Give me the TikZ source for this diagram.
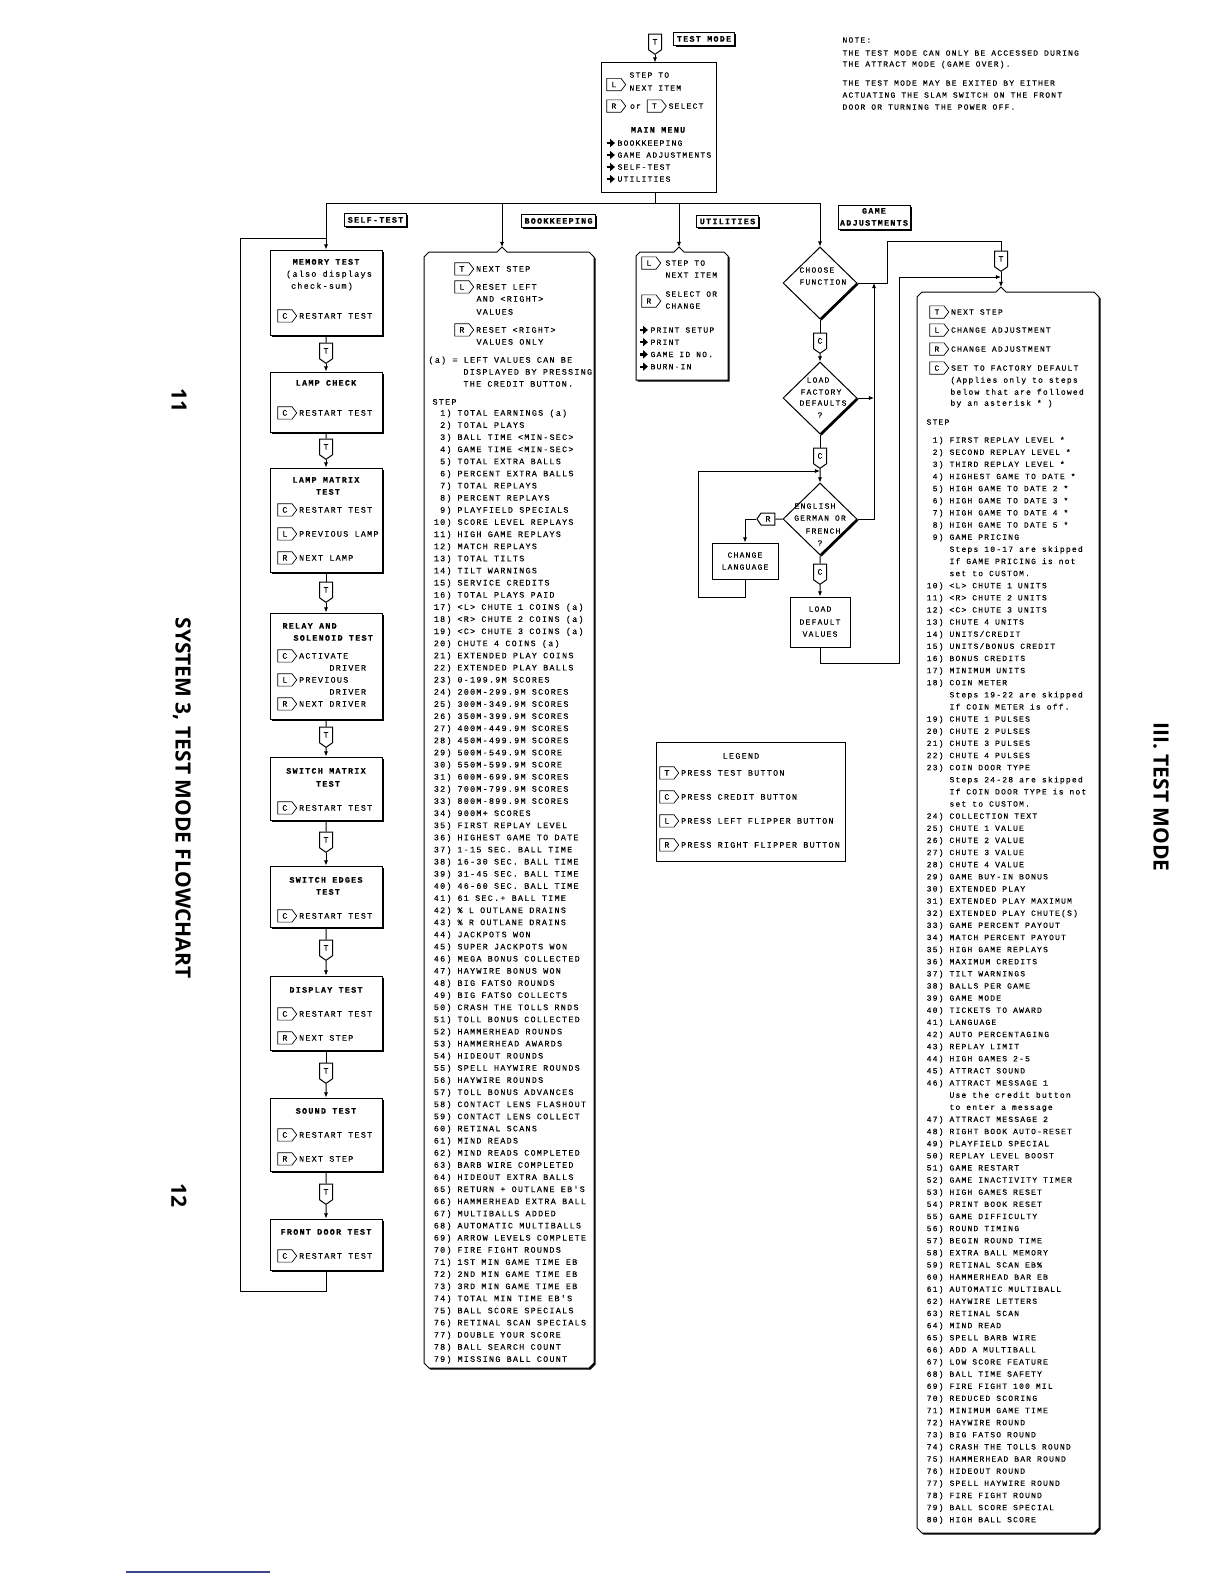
\documentclass[tikz,border=0pt]{standalone}
\usepackage{fontspec}
\usetikzlibrary{shapes.geometric,shapes.symbols,shadows,arrows.meta}
\newfontfamily\plotfont{Liberation Mono}[LetterSpace=15,FakeBold=0.2]
\newfontfamily\sidefont{Open Sans}
\definecolor{rulecol}{RGB}{60,70,140}
\newcommand\btn[1]{\tikz[baseline=(btnk.base)]\node[btnkey](btnk){#1};}
\newcommand\mnu{\tikz[baseline=0pt]\draw[line width=1.1pt,-{Triangle[length=2.4pt,width=4pt]}] (0pt,1.35pt) -- (4.2pt,1.35pt);\hspace{0.8pt}}

\begin{document}
\begin{tikzpicture}[x=0.5pt,y=-0.5pt,line width=0.5pt,
  txt/.style={font=\plotfont\fontsize{4.2}{5}\selectfont,inner sep=0pt,text height=2.7pt,text depth=0pt},
  gtxt/.style={txt,font=\plotfont\fontsize{4}{5}\selectfont},
  ttl/.style={txt,font=\plotfont\bfseries\fontsize{4.2}{5}\selectfont},
  shd/.style={drop shadow={shadow xshift=0.8pt,shadow yshift=-0.8pt,opacity=1,fill=black}},
  stbox/.style={draw,fill=white,shd,minimum width=56pt},
  plainbox/.style={draw,fill=white},
  tag/.style={ttl,draw,fill=white,shd,inner xsep=1.5pt,inner ysep=1.8pt},
  btnkey/.style={shape=signal,signal to=east,draw,line width=0.35pt,minimum width=9.5pt,minimum height=6.2pt,inner sep=0.6pt,signal pointer angle=105},
  tstep/.style={txt,shape=signal,signal to=south,draw,fill=white,minimum width=6.5pt,minimum height=9pt,inner sep=0.5pt,signal pointer angle=110},
  lstep/.style={tstep,signal to=west,minimum width=9pt,minimum height=6pt},
  decide/.style={shape=diamond,draw,fill=white,shd,minimum width=37pt,minimum height=36pt,inner sep=0pt},
  flow/.style={-{Latex[length=2.6pt,width=2.2pt]}},
  side/.style={font=\sidefont\bfseries\fontsize{10.5}{12}\selectfont,rotate=-90,inner sep=0pt}]
\useasboundingbox (0,0) rectangle (1224,1584);

% top of the chart
\node[tstep] (tmain) at (655,42) {T};
\node[tag] (testmode) at (704,39) {TEST MODE};
\node[plainbox,minimum width=57.5pt,minimum height=64.5pt] (mainbox) at (658.5,127.5) {};
\draw[flow] (tmain) -- (tmain |- mainbox.north);
\node[gtxt,anchor=west] (mn-l) at (606,84.5) {\btn{L}};
\node[gtxt,anchor=west] (mn-l1) at (629,75) {STEP TO};
\node[gtxt,anchor=west] (mn-l2) at (629,88) {NEXT ITEM};
\node[gtxt,anchor=west] (mn-r) at (606,106) {\btn{R}\hspace{2pt}or\hspace{3pt}\btn{T}\hspace{1pt}SELECT};
\node[ttl] (mn-head) at (658,130) {MAIN MENU};
\foreach \m [count=\i from 0] in {BOOKKEEPING,GAME ADJUSTMENTS,SELF-TEST,UTILITIES}
  \node[gtxt,anchor=west] (mn\i) at (605,{143+12*\i}) {\mnu\m};

% note
\node[gtxt,anchor=west] (note0) at (842,40) {NOTE:};
\node[gtxt,anchor=west] (note1) at (842,53) {THE TEST MODE CAN ONLY BE ACCESSED DURING};
\node[gtxt,anchor=west] (note2) at (842,64) {THE ATTRACT MODE (GAME OVER).};
\node[gtxt,anchor=west] (note3) at (842,83) {THE TEST MODE MAY BE EXITED BY EITHER};
\node[gtxt,anchor=west] (note4) at (842,95) {ACTUATING THE SLAM SWITCH ON THE FRONT};
\node[gtxt,anchor=west] (note5) at (842,107) {DOOR OR TURNING THE POWER OFF.};

% menu bus
\coordinate (bus-mid) at (655,203);
\coordinate (bus-st) at (326,203);
\coordinate (bus-bk) at (502,203);
\coordinate (bus-ut) at (679,203);
\coordinate (bus-ga) at (820,203);
\draw (tmain |- mainbox.south) -- (bus-mid);
\draw (bus-st) -- (bus-ga);
\node[tag] (lbl-st) at (375.5,220) {SELF-TEST};
\node[tag] (lbl-bk) at (558.5,221) {BOOKKEEPING};
\node[tag] (lbl-ut) at (727.5,221.5) {UTILITIES};
\node[tag,minimum width=36pt,minimum height=12pt] (lbl-ga) at (874,217) {};
\node[ttl] (lbl-ga1) at (874,211) {GAME};
\node[ttl] (lbl-ga2) at (874,223) {ADJUSTMENTS};

% self-test column
\node[stbox,minimum height=42.5pt] (memtest) at (326,292.5) {};
\node[ttl] (memtest-a) at (326,262) {MEMORY TEST};
\node[txt] (memtest-b) at (329,274) {(also displays};
\node[txt] (memtest-c) at (322,286) {check-sum)};
\node[txt,anchor=west] (memtest-k) at (277,316) {\btn{C}\hspace{1pt}RESTART TEST};

\node[stbox,minimum height=30pt] (lampchk) at (326,402) {};
\node[ttl] (lampchk-a) at (326,383) {LAMP CHECK};
\node[txt,anchor=west] (lampchk-k) at (277,413) {\btn{C}\hspace{1pt}RESTART TEST};

\node[stbox,minimum height=52pt] (lampmtx) at (326,520) {};
\node[ttl] (lampmtx-a) at (326,480) {LAMP MATRIX};
\node[ttl] (lampmtx-b) at (328,492) {TEST};
\node[txt,anchor=west] (lampmtx-k1) at (277,510) {\btn{C}\hspace{1pt}RESTART TEST};
\node[txt,anchor=west] (lampmtx-k2) at (277,534) {\btn{L}\hspace{1pt}PREVIOUS LAMP};
\node[txt,anchor=west] (lampmtx-k3) at (277,558) {\btn{R}\hspace{1pt}NEXT LAMP};

\node[stbox,minimum height=53pt] (relay) at (326,666) {};
\node[ttl,anchor=west] (relay-a) at (282,626) {RELAY AND};
\node[ttl,anchor=west] (relay-b) at (293,638) {SOLENOID TEST};
\node[txt,anchor=west] (relay-k1) at (277,656) {\btn{C}\hspace{1pt}ACTIVATE};
\node[txt,anchor=west] (relay-k1b) at (329,668) {DRIVER};
\node[txt,anchor=west] (relay-k2) at (277,680) {\btn{L}\hspace{1pt}PREVIOUS};
\node[txt,anchor=west] (relay-k2b) at (329,692) {DRIVER};
\node[txt,anchor=west] (relay-k3) at (277,704) {\btn{R}\hspace{1pt}NEXT DRIVER};

\node[stbox,minimum height=31.5pt] (swmtx) at (326,788.5) {};
\node[ttl] (swmtx-a) at (326,771) {SWITCH MATRIX};
\node[ttl] (swmtx-b) at (328,784) {TEST};
\node[txt,anchor=west] (swmtx-k) at (277,808) {\btn{C}\hspace{1pt}RESTART TEST};

\node[stbox,minimum height=30.5pt] (swedge) at (326,896.5) {};
\node[ttl] (swedge-a) at (326,880) {SWITCH EDGES};
\node[ttl] (swedge-b) at (328,892) {TEST};
\node[txt,anchor=west] (swedge-k) at (277,916) {\btn{C}\hspace{1pt}RESTART TEST};

\node[stbox,minimum height=37pt] (disp) at (326,1013) {};
\node[ttl] (disp-a) at (326,990) {DISPLAY TEST};
\node[txt,anchor=west] (disp-k1) at (277,1014) {\btn{C}\hspace{1pt}RESTART TEST};
\node[txt,anchor=west] (disp-k2) at (277,1038) {\btn{R}\hspace{1pt}NEXT STEP};

\node[stbox,minimum height=36.5pt] (sound) at (326,1134.5) {};
\node[ttl] (sound-a) at (326,1111) {SOUND TEST};
\node[txt,anchor=west] (sound-k1) at (277,1135) {\btn{C}\hspace{1pt}RESTART TEST};
\node[txt,anchor=west] (sound-k2) at (277,1159) {\btn{R}\hspace{1pt}NEXT STEP};

\node[stbox,minimum height=25.5pt] (frontdoor) at (326,1244.5) {};
\node[ttl] (frontdoor-a) at (326,1232) {FRONT DOOR TEST};
\node[txt,anchor=west] (frontdoor-k) at (277,1256) {\btn{C}\hspace{1pt}RESTART TEST};

\foreach \a/\b/\y [count=\i] in {memtest/lampchk/351,lampchk/lampmtx/447,lampmtx/relay/590,relay/swmtx/735,swmtx/swedge/840,swedge/disp/948,disp/sound/1071,sound/frontdoor/1192}{
  \node[tstep] (st\i) at (326,\y) {T};
  \draw (\a) -- (st\i);
  \draw[flow] (st\i) -- (\b);
}
\coordinate (st-back) at (326,1291);
\coordinate (st-ret) at (240,1291);
\coordinate (st-in) at (326,238);
\draw (frontdoor) -- (st-back) -- (st-ret) |- (st-in);
\draw[flow] (bus-st) -- (memtest);

% bookkeeping
\coordinate (bk-peak) at (502,247);
\draw[fill=white,shd] (424,257) -- (429,252) -- (497,252) -- (bk-peak) -- (507,252) -- (589,252) -- (594,257) -- (594,1363) -- (589,1368) -- (429,1368) -- (424,1363) -- cycle;
\draw[flow] (bus-bk) -- (bk-peak);
\node[txt,anchor=west] (bk-k1) at (454,269) {\btn{T}\hspace{1pt}NEXT STEP};
\node[txt,anchor=west] (bk-k2) at (454,287) {\btn{L}\hspace{1pt}RESET LEFT};
\node[txt,anchor=west] (bk-k2b) at (476,299) {AND <RIGHT>};
\node[txt,anchor=west] (bk-k2c) at (476,312) {VALUES};
\node[txt,anchor=west] (bk-k3) at (454,330) {\btn{R}\hspace{1pt}RESET <RIGHT>};
\node[txt,anchor=west] (bk-k3b) at (476,342) {VALUES ONLY};
\node[txt,anchor=west] (bk-n1) at (428,360) {(a) = LEFT VALUES CAN BE};
\node[txt,anchor=west] (bk-n2) at (463,372) {DISPLAYED BY PRESSING};
\node[txt,anchor=west] (bk-n3) at (463,384) {THE CREDIT BUTTON.};
\node[txt,anchor=west] (bk-step) at (432,402) {STEP};
\foreach \n/\t [count=\i from 0] in {1)/TOTAL EARNINGS (a),2)/TOTAL PLAYS,3)/BALL TIME <MIN-SEC>,4)/GAME TIME <MIN-SEC>,5)/TOTAL EXTRA BALLS,6)/PERCENT EXTRA BALLS,7)/TOTAL REPLAYS,8)/PERCENT REPLAYS,9)/PLAYFIELD SPECIALS,10)/SCORE LEVEL REPLAYS,11)/HIGH GAME REPLAYS,12)/MATCH REPLAYS,13)/TOTAL TILTS,14)/TILT WARNINGS,15)/SERVICE CREDITS,16)/TOTAL PLAYS PAID,17)/<L> CHUTE 1 COINS (a),18)/<R> CHUTE 2 COINS (a),19)/<C> CHUTE 3 COINS (a),20)/CHUTE 4 COINS (a),21)/EXTENDED PLAY COINS,22)/EXTENDED PLAY BALLS,23)/0-199.9M SCORES,24)/200M-299.9M SCORES,25)/300M-349.9M SCORES,26)/350M-399.9M SCORES,27)/400M-449.9M SCORES,28)/450M-499.9M SCORES,29)/500M-549.9M SCORE,30)/550M-599.9M SCORE,31)/600M-699.9M SCORES,32)/700M-799.9M SCORES,33)/800M-899.9M SCORES,34)/900M+ SCORES,35)/FIRST REPLAY LEVEL,36)/HIGHEST GAME TO DATE,37)/1-15 SEC. BALL TIME,38)/16-30 SEC. BALL TIME,39)/31-45 SEC. BALL TIME,40)/46-60 SEC. BALL TIME,41)/61 SEC.+ BALL TIME,42)/\% L OUTLANE DRAINS,43)/\% R OUTLANE DRAINS,44)/JACKPOTS WON,45)/SUPER JACKPOTS WON,46)/MEGA BONUS COLLECTED,47)/HAYWIRE BONUS WON,48)/BIG FATSO ROUNDS,49)/BIG FATSO COLLECTS,50)/CRASH THE TOLLS RNDS,51)/TOLL BONUS COLLECTED,52)/HAMMERHEAD ROUNDS,53)/HAMMERHEAD AWARDS,54)/HIDEOUT ROUNDS,55)/SPELL HAYWIRE ROUNDS,56)/HAYWIRE ROUNDS,57)/TOLL BONUS ADVANCES,58)/CONTACT LENS FLASHOUT,59)/CONTACT LENS COLLECT,60)/RETINAL SCANS,61)/MIND READS,62)/MIND READS COMPLETED,63)/BARB WIRE COMPLETED,64)/HIDEOUT EXTRA BALLS,65)/RETURN + OUTLANE EB'S,66)/HAMMERHEAD EXTRA BALL,67)/MULTIBALLS ADDED,68)/AUTOMATIC MULTIBALLS,69)/ARROW LEVELS COMPLETE,70)/FIRE FIGHT ROUNDS,71)/1ST MIN GAME TIME EB,72)/2ND MIN GAME TIME EB,73)/3RD MIN GAME TIME EB,74)/TOTAL MIN TIME EB'S,75)/BALL SCORE SPECIALS,76)/RETINAL SCAN SPECIALS,77)/DOUBLE YOUR SCORE,78)/BALL SEARCH COUNT,79)/MISSING BALL COUNT}{
  \node[txt,anchor=east] (bkn\i) at (452,{413+12.13*\i}) {\n};
  \node[txt,anchor=west] (bk\i) at (457,{413+12.13*\i}) {\t};
}

% utilities
\coordinate (ut-peak) at (679,247);
\draw[fill=white,shd] (636,256) -- (640,252) -- (674,252) -- (ut-peak) -- (684,252) -- (724,252) -- (728,256) -- (728,380) -- (636,380) -- cycle;
\draw[flow] (bus-ut) -- (ut-peak);
\node[gtxt,anchor=west] (ut-l) at (641,263) {\btn{L}};
\node[gtxt,anchor=west] (ut-l1) at (665,263) {STEP TO};
\node[gtxt,anchor=west] (ut-l2) at (665,275) {NEXT ITEM};
\node[gtxt,anchor=west] (ut-r) at (641,301) {\btn{R}};
\node[gtxt,anchor=west] (ut-r1) at (665,294) {SELECT OR};
\node[gtxt,anchor=west] (ut-r2) at (665,306) {CHANGE};
\foreach \m [count=\i from 0] in {PRINT SETUP,PRINT,GAME ID NO.,BURN-IN}
  \node[gtxt,anchor=west] (ut\i) at (638,{330+12.2*\i}) {\mnu\m};

% game adjustments flow
\node[decide] (choose) at (820,283) {};
\node[gtxt,anchor=west] (choose-a) at (799,270) {CHOOSE};
\node[gtxt,anchor=west] (choose-b) at (799,282) {FUNCTION};
\draw[flow] (bus-ga) -- (choose);
\node[tstep] (c1) at (820,341) {C};
\draw (choose) -- (c1);
\node[decide] (loadfac) at (820,398) {};
\node[gtxt] (loadfac-a) at (818,380) {LOAD};
\node[gtxt] (loadfac-b) at (821,392) {FACTORY};
\node[gtxt] (loadfac-c) at (823,403) {DEFAULTS};
\node[gtxt] (loadfac-d) at (820,415) {?};
\draw[flow] (c1) -- (loadfac);
\node[tstep] (c2) at (820,456) {C};
\draw (loadfac) -- (c2);
\node[decide] (lang) at (820,519) {};
\node[gtxt] (lang-a) at (815,506) {ENGLISH};
\node[gtxt] (lang-b) at (820,518) {GERMAN OR};
\node[gtxt] (lang-c) at (823,531) {FRENCH};
\node[gtxt] (lang-d) at (820,543) {?};
\coordinate (lang-in) at (820,471);
\draw[flow] (c2) -- (lang);
\node[lstep] (rk) at (768,519) {R};
\draw (lang) -- (rk);
\node[plainbox,minimum width=33pt,minimum height=18pt] (chglang) at (745,561) {};
\node[gtxt] (chglang-a) at (745,555) {CHANGE};
\node[gtxt] (chglang-b) at (745,567) {LANGUAGE};
\draw[flow] (rk) -| (chglang);
\coordinate (chg-back) at (745,597);
\coordinate (chg-left) at (698,597);
\draw[flow] (chglang) -- (chg-back) -- (chg-left) |- (lang-in);
\node[tstep] (c3) at (820,572) {C};
\draw (lang) -- (c3);
\node[plainbox,minimum width=30pt,minimum height=25pt] (loaddef) at (820,622) {};
\node[gtxt] (loaddef-a) at (820,609) {LOAD};
\node[gtxt] (loaddef-b) at (820,622) {DEFAULT};
\node[gtxt] (loaddef-c) at (820,634) {VALUES};
\draw[flow] (c3) -- (loaddef);

\coordinate (ga-up) at (887,241);
\coordinate (ga-top) at (1001,241);
\coordinate (ga-join) at (1001,277);
\coordinate (ga-peak) at (1001,287);
\coordinate (yes-col) at (874,283);
\coordinate (def-back) at (820,663);
\coordinate (def-col) at (899,663);
\node[tstep] (ga-t) at (1001,259) {T};
\draw (choose.east) -| (ga-up) -- (ga-top) -- (ga-t);
\draw[flow] (lang.east) -| (yes-col);
\draw[flow] (loadfac.east) -- (loadfac.east -| yes-col);
\draw[flow] (loaddef) -- (def-back) -- (def-col) |- (ga-join);

% game adjustments list
\draw[fill=white,shd] (917,297) -- (922,292) -- (996,292) -- (ga-peak) -- (1006,292) -- (1094,292) -- (1099,297) -- (1099,1528) -- (1094,1533) -- (922,1533) -- (917,1528) -- cycle;
\draw[flow] (ga-t) -- (ga-peak);
\node[gtxt,anchor=west] (ga-k1) at (929,312) {\btn{T}\hspace{1pt}NEXT STEP};
\node[gtxt,anchor=west] (ga-k2) at (929,330) {\btn{L}\hspace{1pt}CHANGE ADJUSTMENT};
\node[gtxt,anchor=west] (ga-k3) at (929,349) {\btn{R}\hspace{1pt}CHANGE ADJUSTMENT};
\node[gtxt,anchor=west] (ga-k4) at (929,368) {\btn{C}\hspace{1pt}SET TO FACTORY DEFAULT};
\node[gtxt,anchor=west] (ga-k4a) at (950,380) {(Applies only to steps};
\node[gtxt,anchor=west] (ga-k4b) at (950,392) {below that are followed};
\node[gtxt,anchor=west] (ga-k4c) at (950,403) {by an asterisk * )};
\node[gtxt,anchor=west] (ga-step) at (926,422) {STEP};
\foreach \n/\t [count=\i from 0] in {1)/FIRST REPLAY LEVEL *,2)/SECOND REPLAY LEVEL *,3)/THIRD REPLAY LEVEL *,4)/HIGHEST GAME TO DATE *,5)/HIGH GAME TO DATE 2 *,6)/HIGH GAME TO DATE 3 *,7)/HIGH GAME TO DATE 4 *,8)/HIGH GAME TO DATE 5 *,9)/GAME PRICING,/Steps 10-17 are skipped,/If GAME PRICING is not,/set to CUSTOM.,10)/<L> CHUTE 1 UNITS,11)/<R> CHUTE 2 UNITS,12)/<C> CHUTE 3 UNITS,13)/CHUTE 4 UNITS,14)/{UNITS/CREDIT},15)/{UNITS/BONUS CREDIT},16)/BONUS CREDITS,17)/MINIMUM UNITS,18)/COIN METER,/Steps 19-22 are skipped,/If COIN METER is off.,19)/CHUTE 1 PULSES,20)/CHUTE 2 PULSES,21)/CHUTE 3 PULSES,22)/CHUTE 4 PULSES,23)/COIN DOOR TYPE,/Steps 24-28 are skipped,/If COIN DOOR TYPE is not,/set to CUSTOM.,24)/COLLECTION TEXT,25)/CHUTE 1 VALUE,26)/CHUTE 2 VALUE,27)/CHUTE 3 VALUE,28)/CHUTE 4 VALUE,29)/GAME BUY-IN BONUS,30)/EXTENDED PLAY,31)/EXTENDED PLAY MAXIMUM,32)/EXTENDED PLAY CHUTE(S),33)/GAME PERCENT PAYOUT,34)/MATCH PERCENT PAYOUT,35)/HIGH GAME REPLAYS,36)/MAXIMUM CREDITS,37)/TILT WARNINGS,38)/BALLS PER GAME,39)/GAME MODE,40)/TICKETS TO AWARD,41)/LANGUAGE,42)/AUTO PERCENTAGING,43)/REPLAY LIMIT,44)/HIGH GAMES 2-5,45)/ATTRACT SOUND,46)/ATTRACT MESSAGE 1,/Use the credit button,/to enter a message,47)/ATTRACT MESSAGE 2,48)/RIGHT BOOK AUTO-RESET,49)/PLAYFIELD SPECIAL,50)/REPLAY LEVEL BOOST,51)/GAME RESTART,52)/GAME INACTIVITY TIMER,53)/HIGH GAMES RESET,54)/PRINT BOOK RESET,55)/GAME DIFFICULTY,56)/ROUND TIMING,57)/BEGIN ROUND TIME,58)/EXTRA BALL MEMORY,59)/RETINAL SCAN EB\%,60)/HAMMERHEAD BAR EB,61)/AUTOMATIC MULTIBALL,62)/HAYWIRE LETTERS,63)/RETINAL SCAN,64)/MIND READ,65)/SPELL BARB WIRE,66)/ADD A MULTIBALL,67)/LOW SCORE FEATURE,68)/BALL TIME SAFETY,69)/FIRE FIGHT 100 MIL,70)/REDUCED SCORING,71)/MINIMUM GAME TIME,72)/HAYWIRE ROUND,73)/BIG FATSO ROUND,74)/CRASH THE TOLLS ROUND,75)/HAMMERHEAD BAR ROUND,76)/HIDEOUT ROUND,77)/SPELL HAYWIRE ROUND,78)/FIRE FIGHT ROUND,79)/BALL SCORE SPECIAL,80)/HIGH BALL SCORE}{
  \node[gtxt,anchor=east] (gan\i) at (944,{440+12.13*\i}) {\n};
  \node[gtxt,anchor=west] (ga\i) at (949,{440+12.13*\i}) {\t};
}

% legend
\node[plainbox,minimum width=94.5pt,minimum height=59.5pt] (legend) at (750.5,801.5) {};
\node[txt] (legend-t) at (741,756) {LEGEND};
\node[txt,anchor=west] (legend-1) at (659,773) {\btn{T}\hspace{1pt}PRESS TEST BUTTON};
\node[txt,anchor=west] (legend-2) at (659,797) {\btn{C}\hspace{1pt}PRESS CREDIT BUTTON};
\node[txt,anchor=west] (legend-3) at (659,821) {\btn{L}\hspace{1pt}PRESS LEFT FLIPPER BUTTON};
\node[txt,anchor=west] (legend-4) at (659,845) {\btn{R}\hspace{1pt}PRESS RIGHT FLIPPER BUTTON};

% page margins
\node[side] (pg11) at (179,400) {11};
\node[side] (pgtitle) at (182,798) {SYSTEM 3, TEST MODE FLOWCHART};
\node[side] (pg12) at (179,1195) {12};
\node[side] (chapter) at (1161,797) {III. TEST MODE};
\coordinate (fn-a) at (126,1572);
\coordinate (fn-b) at (270,1572);
\draw[rulecol,line width=0.6pt] (fn-a) -- (fn-b);
\end{tikzpicture}
\end{document}
